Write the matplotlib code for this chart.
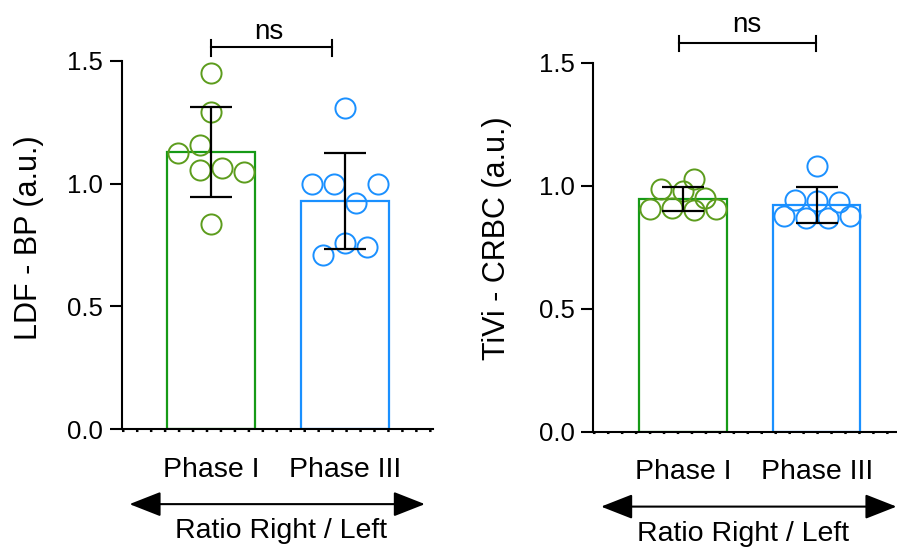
import numpy as np
import matplotlib
matplotlib.use("Agg")
import matplotlib.pyplot as plt

plt.rcParams['font.family'] = ['Liberation Sans', 'DejaVu Sans']

groups = ["Phase I", "Phase III"]

# LDF - BP ratios (right / left)
ldf_phase1 = [1.45, 1.292, 1.157, 1.126, 1.056, 1.062, 1.049, 0.834]
ldf_phase3 = [1.308, 0.998, 0.998, 0.998, 0.922, 0.759, 0.741, 0.709]

# TiVi - CRBC ratios (right / left)
tivi_phase1 = [0.987, 0.979, 1.027, 0.948, 0.906, 0.908, 0.901, 0.905]
tivi_phase3 = [1.082, 0.943, 0.938, 0.932, 0.875, 0.868, 0.868, 0.875]

# swarm layout, in marker widths from the bar centre
swarm_ldf1 = [0, 0, -0.5, -1.5, -0.5, 0.5, 1.5, 0]
swarm_ldf3 = [0, -1.5, -0.5, 1.5, 0.5, 0, 1, -1]
swarm_tivi1 = [-1, 0, 0.5, 1, -1.5, -0.5, 0.5, 1.5]
swarm_tivi3 = [0, -1, 0, 1, -1.5, -0.5, 0.5, 1.5]

bar_colors = ["#169a16", "#1a90ff"]
dot_colors = ["#5c9c1c", "#1a90ff"]
marker_w = 0.165


def panel(ax, series, swarms, ylabel, ns_bracket, ns_text, label_pos, ratio_x):
    means = [np.mean(s) for s in series]
    sds = [np.std(s, ddof=1) for s in series]
    x = np.arange(len(groups))
    ax.bar(x, means, width=0.654, facecolor="none", edgecolor=bar_colors,
           linewidth=1.6, zorder=2)
    for i, (vals, sw) in enumerate(zip(series, swarms)):
        xs = i + np.array(sw) * marker_w
        ax.plot(xs, vals, "o", ms=14.5, mfc="none", mec=dot_colors[i],
                mew=1.4, zorder=3, clip_on=False)
    ax.errorbar(x, means, yerr=sds, fmt="none", ecolor="black",
                elinewidth=1.6, capsize=15, capthick=1.6, zorder=4)

    ax.set_xlim(-0.669, 1.655)
    ax.set_ylim(0, 1.5)
    ax.set_yticks([0, 0.5, 1.0, 1.5])
    ax.set_yticklabels(["0.0", "0.5", "1.0", "1.5"])
    ax.set_xticks(x)
    ax.set_xticklabels(groups)
    ax.tick_params(axis="y", length=8.5, width=1.5, labelsize=18.5, pad=5)
    ax.tick_params(axis="x", length=0, labelsize=20.5, pad=20)
    for s in ["top", "right"]:
        ax.spines[s].set_visible(False)
    for s in ["left", "bottom"]:
        ax.spines[s].set_linewidth(1.5)
    # dotted baseline under the x axis
    ax.axhline(-0.006, color="black", lw=1.5, ls=(0, (1.2, 5.5)),
               clip_on=False, zorder=1)

    ax.set_ylabel(ylabel, fontsize=22)
    ax.yaxis.set_label_coords(*label_pos)

    # significance bracket
    x0, x1, h = ns_bracket
    ax.plot([x0, x1], [h, h], color="black", lw=1.5, clip_on=False)
    for xb in (x0, x1):
        ax.plot([xb, xb], [h - 0.035, h + 0.028], color="black", lw=1.5,
                clip_on=False)
    ax.text(ns_text[0], ns_text[1], "ns", fontsize=20, ha="center",
            va="center")

    ax.annotate("", xy=(0.975, -0.203), xytext=(0.025, -0.203),
                xycoords="axes fraction",
                arrowprops=dict(arrowstyle="<|-|>,head_length=1.4,head_width=0.55",
                                color="black", lw=1.5, shrinkA=0, shrinkB=0,
                                mutation_scale=14))
    ax.text(ratio_x, -0.276, "Ratio Right / Left", fontsize=20.5,
            ha="center", va="center", transform=ax.transAxes)


fig = plt.figure(figsize=(8.97, 5.47), dpi=100)
ax1 = fig.add_axes([121.7 / 897, (547 - 429.3) / 547, 311 / 897, 368.6 / 547])
ax2 = fig.add_axes([593.3 / 897, (547 - 431.7) / 547, 311 / 897, 369 / 547])

panel(ax1, [ldf_phase1, ldf_phase3], [swarm_ldf1, swarm_ldf3],
      "LDF - BP (a.u.)", (0.0, 0.9, 1.556), (0.427, 1.615),
      (-0.25, 0.519), 0.512)
panel(ax2, [tivi_phase1, tivi_phase3], [swarm_tivi1, swarm_tivi3],
      "TiVi - CRBC (a.u.)", (-0.03, 0.996, 1.582), (0.479, 1.652),
      (-0.262, 0.525), 0.48)

fig.savefig("out.png", dpi=100)
